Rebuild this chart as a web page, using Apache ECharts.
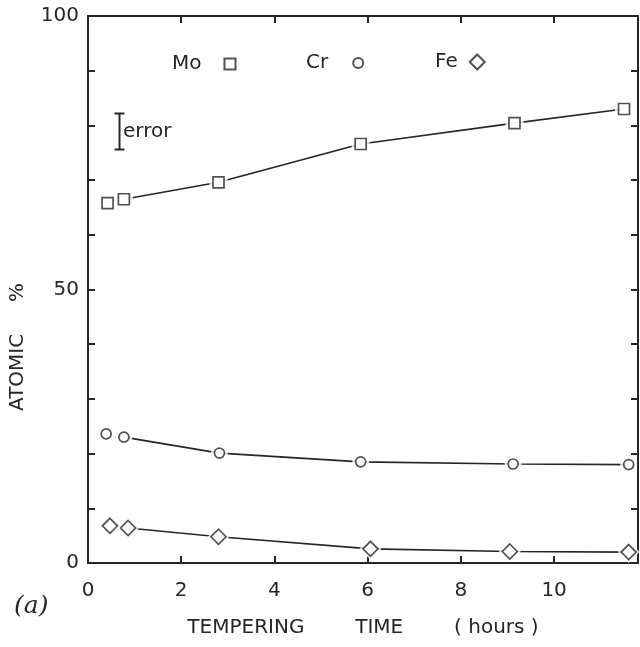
<!DOCTYPE html>
<html>
<head>
<meta charset="utf-8">
<script src="https://cdn.jsdelivr.net/npm/echarts@6/dist/echarts.min.js"></script>
<style>
html,body{margin:0;padding:0;background:#fff;}
#c{width:640px;height:647px;}
</style>
</head>
<body>
<div id="c"></div>
<script>
// ---- data ----
var timeMo = [0.42, 0.77, 2.80, 5.85, 9.15, 11.50];
var mo     = [65.8, 66.5, 69.6, 76.6, 80.4, 83.0];
var timeCr = [0.39, 0.77, 2.82, 5.85, 9.12, 11.60];
var cr     = [23.6, 23.0, 20.1, 18.5, 18.1, 18.0];
var timeFe = [0.47, 0.86, 2.80, 6.06, 9.05, 11.60];
var fe     = [6.8, 6.4, 4.8, 2.6, 2.1, 2.0];
var xTickLabels = ['0', '2', '4', '6', '8', '10'];
var yTickLabels = ['0', '50', '100'];

var INK = '#262626';
var FONT = 'DejaVu Sans';

function pairs(xs, ys) { return xs.map(function (x, i) { return [x, ys[i]]; }); }

function elementSeries(name, xs, ys, symbol, size) {
  var all = pairs(xs, ys);
  return [
    { type: 'line', data: all.slice(1), showSymbol: false, symbol: 'none', silent: true,
      lineStyle: { color: INK, width: 1.7 }, z: 1, animation: false },
    { type: 'scatter', data: all, symbol: symbol, symbolSize: size + 7, silent: true,
      itemStyle: { color: '#fff' }, z: 2, animation: false },
    { type: 'scatter', name: name, data: all, symbol: symbol, symbolSize: size,
      itemStyle: { color: '#fff', borderColor: INK, borderWidth: 1.7 }, z: 3, animation: false }
  ];
}

function legendFor(name, left, top, size, gap) {
  return {
    data: [name], left: left, top: top, padding: 0, align: 'right',
    itemWidth: size, itemHeight: size, selectedMode: false,
    textStyle: { fontFamily: FONT, fontSize: 20, color: INK, padding: [0, gap, 0, 0] }
  };
}

function frameAxis(extra) {
  var base = {
    type: 'value',
    axisLine: { onZero: false, lineStyle: { color: INK, width: 2 } },
    axisTick: { inside: true, length: 7, lineStyle: { color: INK, width: 2 } },
    splitLine: { show: false }
  };
  for (var k in extra) base[k] = extra[k];
  return base;
}

var chart = echarts.init(document.getElementById('c'), null, { renderer: 'canvas' });
var option = {
  backgroundColor: '#fff',
  animation: false,
  grid: { left: 88, right: 2, top: 16, bottom: 84 },
  legend: [
    legendFor('Mo', 172, 54, 11, 18),
    legendFor('Cr', 306, 53, 10, 20),
    legendFor('Fe', 435, 52, 15, 7)
  ],
  xAxis: [
    frameAxis({ min: 0, max: 11.8, interval: 2, position: 'bottom',
      name: 'TEMPERING        TIME        ( hours )', nameLocation: 'middle', nameGap: 55,
      nameTextStyle: { fontFamily: FONT, fontSize: 20, color: INK },
      axisLabel: { margin: 18, fontFamily: FONT, fontSize: 20, color: INK,
        showMaxLabel: false,
        formatter: function (v) { var s = String(Math.round(v)); return (Math.abs(v - Math.round(v)) < 1e-6 && xTickLabels.indexOf(s) >= 0) ? s : ''; } } }),
    frameAxis({ min: 0, max: 11.8, interval: 2, position: 'top', axisLabel: { show: false } })
  ],
  yAxis: [
    frameAxis({ min: 0, max: 100, interval: 10, position: 'left',
      axisLabel: { margin: 9, fontFamily: FONT, fontSize: 20, color: INK,
        formatter: function (v) { var s = String(v); return yTickLabels.indexOf(s) >= 0 ? s : ''; } } }),
    frameAxis({ min: 0, max: 100, interval: 10, position: 'right', axisLabel: { show: false } })
  ],
  graphic: [
    { type: 'text', left: 8, top: 283, rotation: Math.PI / 2,
      style: { text: 'ATOMIC     %', fontFamily: FONT, fontSize: 20, fill: INK } },
    { type: 'group', left: 112, top: 111, children: [
      { type: 'line', shape: { x1: 5, y1: 0, x2: 5, y2: 36 }, style: { stroke: INK, lineWidth: 2 } },
      { type: 'line', shape: { x1: 0, y1: 0, x2: 10, y2: 0 }, style: { stroke: INK, lineWidth: 2 } },
      { type: 'line', shape: { x1: 0, y1: 36, x2: 10, y2: 36 }, style: { stroke: INK, lineWidth: 2 } }
    ] },
    { type: 'text', left: 123, top: 122,
      style: { text: 'error', fontFamily: FONT, fontSize: 20, fill: INK } },
    { type: 'text', left: 14, top: 594,
      style: { text: '(a)', fontFamily: 'DejaVu Serif', fontStyle: 'italic', fontSize: 25, fill: INK } }
  ],
  series: [].concat(
    elementSeries('Mo', timeMo, mo, 'rect', 11),
    elementSeries('Cr', timeCr, cr, 'circle', 10),
    elementSeries('Fe', timeFe, fe, 'diamond', 15)
  )
};
chart.setOption(option);
</script>
</body>
</html>
